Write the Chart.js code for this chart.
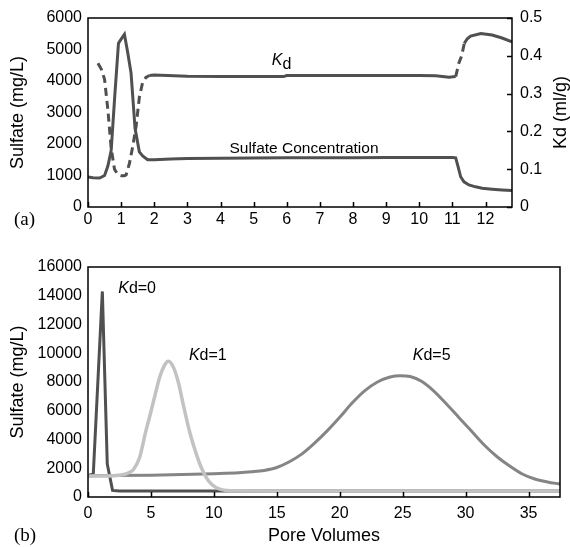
<!DOCTYPE html>
<html><head><meta charset="utf-8">
<script src="https://cdn.jsdelivr.net/npm/chart.js@4.4.1/dist/chart.umd.min.js"></script>
<style>
html,body{margin:0;padding:0;background:#fff;}
#wrap{position:relative;width:570px;height:547px;overflow:hidden;}
#ca{position:absolute;left:0;top:0;}
#cb{position:absolute;left:0;top:230px;}
</style></head><body>
<div id="wrap"><canvas id="ca" width="570" height="230"></canvas><canvas id="cb" width="570" height="317"></canvas></div>
<script>
// ---------- Panel (a) data ----------
const sulfateX = [0, 0.15, 0.35, 0.5, 0.6, 0.7, 0.8, 0.92, 1.0, 1.1, 1.2, 1.3, 1.42, 1.55, 1.65, 1.8, 2.0, 2.5, 3, 4, 5, 6, 7, 8, 9, 10, 10.5, 11.0, 11.1, 11.18, 11.25, 11.35, 11.5, 11.7, 11.9, 12.2, 12.5, 12.8];
const sulfateY = [950, 930, 920, 1000, 1300, 1800, 3400, 5200, 5330, 5480, 4900, 4250, 2500, 1750, 1620, 1500, 1500, 1520, 1540, 1550, 1555, 1560, 1565, 1565, 1570, 1570, 1570, 1570, 1560, 1250, 960, 800, 700, 640, 595, 565, 540, 520];
const kdX = [0.3, 0.4, 0.5, 0.6, 0.7, 0.8, 0.9, 1.0, 1.1, 1.15, 1.25, 1.35, 1.45, 1.55, 1.65, 1.75, 1.85, 2, 3, 4, 5, 5.9, 6, 7, 8, 9, 10, 10.5, 10.9, 11.1, 11.2, 11.28, 11.36, 11.45, 11.55, 11.86, 12.2, 12.5, 12.8];
const kdY = [0.38, 0.365, 0.338, 0.257, 0.155, 0.10, 0.086, 0.083, 0.083, 0.085, 0.115, 0.16, 0.212, 0.29, 0.33, 0.343, 0.348, 0.349, 0.346, 0.345, 0.345, 0.345, 0.348, 0.348, 0.348, 0.348, 0.348, 0.347, 0.343, 0.345, 0.382, 0.400, 0.433, 0.445, 0.452, 0.459, 0.455, 0.447, 0.437];
const xTicksA = [0,1,2,3,4,5,6,7,8,9,10,11,12];
// ---------- Panel (b) data ----------
const kd0X = [0, 0.42, 1.14, 1.53, 1.95, 2.5, 5, 10, 20, 30, 37.5];
const kd0Y = [1500, 1600, 14300, 2300, 460, 420, 410, 410, 410, 410, 410];
const kd1X = [0, 1, 2, 2.5, 3, 3.3, 3.6, 4.1, 4.6, 4.9, 5.3, 5.7, 6.1, 6.38, 6.8, 7.2, 7.6, 8.1, 8.6, 9.0, 9.4, 9.8, 10.2, 10.6, 11, 12, 15, 20, 25, 30, 37.5];
const kd1Y = [1450, 1460, 1480, 1520, 1600, 1720, 1900, 2750, 4600, 5600, 7000, 8350, 9200, 9450, 9000, 7900, 6300, 4450, 3000, 2050, 1350, 900, 640, 510, 450, 430, 420, 420, 420, 420, 420];
const kd5X = [0, 5, 10, 12, 13, 14, 15, 16, 17, 18, 19, 20, 21, 22, 23, 24, 24.8, 25.6, 26.5, 27.5, 28.5, 29.5, 30.5, 31.5, 32.5, 33.5, 34.5, 35.5, 36.5, 37.5];
const kd5Y = [1480, 1520, 1620, 1680, 1750, 1850, 2050, 2450, 3000, 3750, 4600, 5550, 6550, 7400, 8000, 8350, 8440, 8380, 8050, 7350, 6450, 5500, 4550, 3600, 2800, 2150, 1600, 1250, 1050, 900];
const xTicksB = [0,5,10,15,20,25,30,35];

const FONT = "'Liberation Sans', Arial, Helvetica, sans-serif";
const pts = (xs, ys) => xs.map((x, i) => ({x, y: ys[i]}));

const framePlugin = {
  id: 'frame',
  afterDraw(chart, args, o) {
    const {ctx, chartArea: a} = chart;
    ctx.save();
    ctx.strokeStyle = '#000';
    ctx.lineWidth = 1.5;
    ctx.beginPath();
    const xs = chart.scales.x;
    xs.ticks.forEach(t => { const p = Math.round(xs.getPixelForValue(t.value)) + 0.5; ctx.moveTo(p, a.bottom); ctx.lineTo(p, a.bottom - o.tick); });
    if (chart.scales.y2) {
      const s = chart.scales.y2;
      s.ticks.forEach(t => { const p = Math.round(s.getPixelForValue(t.value)) + 0.5; ctx.moveTo(a.right, p); ctx.lineTo(a.right - o.tick, p); });
    }
    ctx.stroke();
    ctx.strokeRect(a.left, a.top, a.right - a.left, a.bottom - a.top);
    // labels
    ctx.fillStyle = '#000';
    (o.labels || []).forEach(l => {
      const sc = chart.scales[l.axis || 'y'];
      let x = xs.getPixelForValue(l.x), y = sc.getPixelForValue(l.y);
      ctx.textBaseline = 'alphabetic';
      ctx.textAlign = 'left';
      l.parts.forEach(p => {
        ctx.font = (p.italic ? 'italic ' : '') + p.size + 'px ' + FONT;
        ctx.fillText(p.t, x, y + (p.dy || 0));
        x += ctx.measureText(p.t).width;
      });
    });
    if (o.rightTitle) {
      ctx.save();
      ctx.translate(o.rightTitle.x, (a.top + a.bottom) / 2);
      ctx.rotate(-Math.PI / 2);
      ctx.font = '18px ' + FONT;
      ctx.textAlign = 'center';
      ctx.textBaseline = 'middle';
      ctx.fillText(o.rightTitle.text, 0, 0);
      ctx.restore();
    }
    if (o.panel) {
      ctx.font = "19px 'Liberation Serif', 'Times New Roman', serif";
      ctx.textAlign = 'left';
      ctx.textBaseline = 'alphabetic';
      ctx.fillText(o.panel.text, o.panel.x, o.panel.y);
    }
    ctx.restore();
  }
};

const tickFont = {family: FONT, size: 16};
const baseAxis = {
  grid: {display: false, drawTicks: false},
  border: {display: false},
};

// ---------- Chart (a) ----------
new Chart(document.getElementById('ca'), {
  type: 'line',
  data: {
    datasets: [
      {data: pts(sulfateX, sulfateY), yAxisID: 'y', borderColor: '#505050', borderWidth: 3, pointRadius: 0, tension: 0, fill: false},
      {data: pts(kdX, kdY), yAxisID: 'y2', borderColor: '#505050', borderWidth: 3, pointRadius: 0, tension: 0, fill: false,
        segment: {borderDash: c => (c.p0.parsed.x < 1.8 || (c.p0.parsed.x >= 11.1 && c.p0.parsed.x < 11.36)) ? [8, 5] : undefined}}
    ]
  },
  options: {
    responsive: false, animation: false, devicePixelRatio: 1,
    layout: {padding: {top: 18, right: 0, left: 0, bottom: 0}},
    plugins: {legend: {display: false}, tooltip: {enabled: false},
      frame: {tick: 5,
        labels: [
          {x: 5.55, y: 0.3755, axis: 'y2', parts: [{t: 'K', italic: true, size: 16}, {t: 'd', size: 16, dy: 4}]},
          {x: 4.27, y: 1720, axis: 'y', parts: [{t: 'Sulfate Concentration', size: 15.5}]}
        ],
        rightTitle: {x: 561, text: 'Kd (ml/g)'},
        panel: {text: '(a)', x: 14, y: 225}
      }},
    scales: {
      x: {...baseAxis, type: 'linear', min: 0, max: 12.8,
        afterBuildTicks: s => { s.ticks = xTicksA.map(v => ({value: v})); },
        ticks: {font: tickFont, color: '#000', padding: 3, maxRotation: 0, callback: v => String(v)},
        afterFit: s => { s.height = 23; }},
      y: {...baseAxis, position: 'left', min: 0, max: 6000,
        ticks: {stepSize: 1000, font: tickFont, color: '#000', padding: 6, callback: v => String(v)},
        title: {display: true, text: 'Sulfate (mg/L)', font: {family: FONT, size: 18}, color: '#000', padding: {top: 7, bottom: 0}},
        afterFit: s => { s.width = 88; }},
      y2: {...baseAxis, position: 'right', min: 0, max: 0.5,
        ticks: {stepSize: 0.1, font: tickFont, color: '#000', padding: 8, callback: v => String(Math.round(v * 10) / 10)},
        afterFit: s => { s.width = 58; }}
    }
  },
  plugins: [framePlugin]
});

// ---------- Chart (b) ----------
new Chart(document.getElementById('cb'), {
  type: 'line',
  data: {
    datasets: [
      {data: pts(kd1X, kd1Y), borderColor: '#c2c2c2', borderWidth: 3.5, pointRadius: 0, cubicInterpolationMode: 'monotone', fill: false, order: 0},
      {data: pts(kd5X, kd5Y), borderColor: '#858585', borderWidth: 3, pointRadius: 0, cubicInterpolationMode: 'monotone', fill: false, order: 1},
      {data: pts(kd0X, kd0Y), borderColor: '#505050', borderWidth: 3, pointRadius: 0, tension: 0, fill: false, order: 2}
    ]
  },
  options: {
    responsive: false, animation: false, devicePixelRatio: 1,
    layout: {padding: {top: 37, right: 10, left: 0, bottom: 0}},
    plugins: {legend: {display: false}, tooltip: {enabled: false},
      frame: {tick: 5,
        labels: [
          {x: 2.4, y: 14190, parts: [{t: 'K', italic: true, size: 16}, {t: 'd=0', size: 16}]},
          {x: 8.02, y: 9530, parts: [{t: 'K', italic: true, size: 16}, {t: 'd=1', size: 16}]},
          {x: 25.8, y: 9530, parts: [{t: 'K', italic: true, size: 16}, {t: 'd=5', size: 16}]}
        ],
        panel: {text: '(b)', x: 14, y: 311}
      }},
    scales: {
      x: {...baseAxis, type: 'linear', min: 0, max: 37.5,
        afterBuildTicks: s => { s.ticks = xTicksB.map(v => ({value: v})); },
        ticks: {font: tickFont, color: '#000', padding: 7, maxRotation: 0, callback: v => String(v)},
        title: {display: true, text: 'Pore Volumes', font: {family: FONT, size: 18}, color: '#000', padding: {top: 0, bottom: 0}},
        afterFit: s => { s.height = 50; }},
      y: {...baseAxis, position: 'left', min: 0, max: 16000,
        ticks: {stepSize: 2000, font: tickFont, color: '#000', padding: 6, callback: v => String(v)},
        title: {display: true, text: 'Sulfate (mg/L)', font: {family: FONT, size: 18}, color: '#000', padding: {top: 7, bottom: 0}},
        afterFit: s => { s.width = 88; }}
    }
  },
  plugins: [framePlugin]
});
</script>
</body></html>
